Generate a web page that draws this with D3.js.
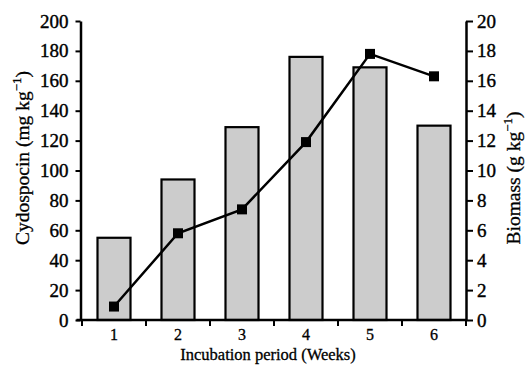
<!DOCTYPE html>
<html><head><meta charset="utf-8">
<script src="https://cdn.jsdelivr.net/npm/d3@7"></script>
<style>body{margin:0;background:#fff}svg{display:block}text{font-family:"Liberation Serif","Times New Roman",serif;fill:#000}</style>
</head><body><svg id="c" width="525" height="366"></svg>
<script>
const weeks = ["1","2","3","4","5","6"];
const cyclosporin = [55, 94, 129, 176, 169, 130];
const biomass = [0.9, 5.8, 7.4, 11.9, 17.8, 16.3];
const leftTicks = [0,20,40,60,80,100,120,140,160,180,200];
const rightTicks = [0,2,4,6,8,10,12,14,16,18,20];

const svg = d3.select("#c");
const ax0 = 80.5, ax1 = 466, yTop = 21, yBot = 320;
const xc = d3.scaleBand().domain(weeks).range([82, 466]);
const yL = d3.scaleLinear().domain([0,200]).range([yBot, yTop]);
const yR = d3.scaleLinear().domain([0,20]).range([yBot, yTop]);
const cx = d => xc(d) + xc.bandwidth()/2;

// bars
svg.append("g").selectAll("rect").data(weeks).join("rect")
  .attr("x", d => cx(d) - 16.5)
  .attr("width", 33)
  .attr("y", (d,i) => yL(cyclosporin[i]))
  .attr("height", (d,i) => yBot - yL(cyclosporin[i]))
  .attr("fill", "#cccccc").attr("stroke", "#000").attr("stroke-width", 2.2);

// line
const line = d3.line().x((d,i) => cx(weeks[i])).y(d => yR(d));
svg.append("path").datum(biomass).attr("d", line).attr("fill","none").attr("stroke","#000").attr("stroke-width",2.5);
svg.append("g").selectAll("rect").data(biomass).join("rect")
  .attr("x", (d,i) => cx(weeks[i]) - 5)
  .attr("y", d => yR(d) - 5).attr("width", 10).attr("height", 10).attr("fill","#000");

// axes
const gl = svg.append("g").attr("transform", `translate(${ax0},0)`)
  .call(d3.axisLeft(yL).tickValues(leftTicks).tickSize(5).tickPadding(7).tickSizeOuter(0));
const gr = svg.append("g").attr("transform", `translate(${ax1},0)`)
  .call(d3.axisRight(yR).tickValues(rightTicks).tickSize(7).tickPadding(4).tickSizeOuter(0));
const xTicksPos = d3.range(0,7).map(i => 82 + i*xc.step());
const gx = svg.append("g").attr("transform", `translate(0,${yBot})`);
gx.append("line").attr("x1", ax0-4).attr("x2", ax1+1).attr("stroke","#000").attr("stroke-width",2.5);
gx.selectAll("line.t").data(xTicksPos).join("line").attr("class","t")
  .attr("x1", d=>d).attr("x2", d=>d).attr("y1",0).attr("y2",6).attr("stroke","#000").attr("stroke-width",2);
gx.selectAll("text").data(weeks).join("text")
  .attr("x", d => cx(d)).attr("y", 20).attr("text-anchor","middle")
  .style("font-size","16px").style("stroke","#000").style("stroke-width","0.3px").text(d=>d);

[gl, gr].forEach(g => {
  g.select(".domain").attr("stroke-width", 2.5);
  g.selectAll(".tick line").attr("stroke-width", 2);
  g.selectAll(".tick text").style("font-size","19px").style("font-family",'"Liberation Serif",serif')
    .attr("fill","#000").style("stroke","#000").style("stroke-width","0.4px");
});

// titles
svg.append("text").attr("x", 268).attr("y", 359.5).attr("text-anchor","middle").style("font-size","16.5px")
  .style("stroke","#000").style("stroke-width","0.3px")
  .text("Incubation period (Weeks)");
const tl = svg.append("text").attr("transform","translate(29,158) rotate(-90)").attr("text-anchor","middle")
  .style("font-size","19.5px").style("stroke","#000").style("stroke-width","0.3px");
tl.append("tspan").text("Cydospocin (mg kg");
tl.append("tspan").attr("dy",-8).style("font-size","13px").text("−1");
tl.append("tspan").attr("dy",8).text(")");
const tr = svg.append("text").attr("transform","translate(520,178) rotate(-90)").attr("text-anchor","middle")
  .style("font-size","19.5px").style("stroke","#000").style("stroke-width","0.3px");
tr.append("tspan").text("Biomass (g kg");
tr.append("tspan").attr("dy",-8).style("font-size","13px").text("−1");
tr.append("tspan").attr("dy",8).text(")");
</script></body></html>
